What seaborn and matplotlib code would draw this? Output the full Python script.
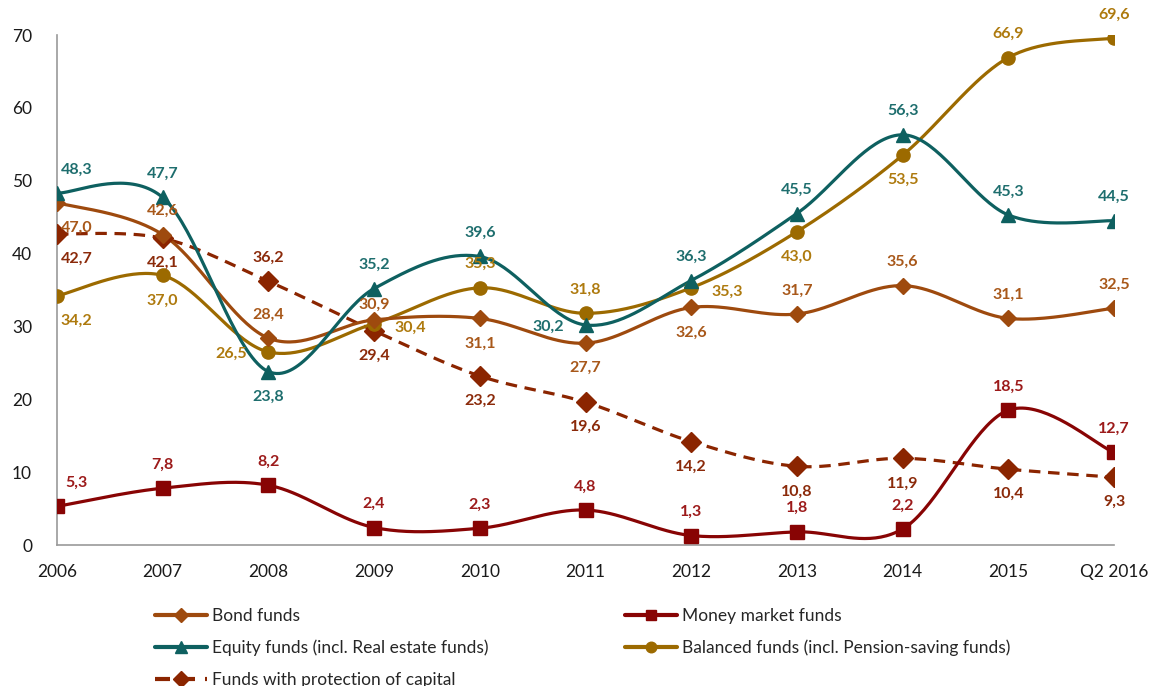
import numpy as np
import pandas as pd
import seaborn as sns
import matplotlib
matplotlib.use("Agg")
import matplotlib.pyplot as plt
from matplotlib.lines import Line2D

# data
years = ["2006", "2007", "2008", "2009", "2010", "2011", "2012", "2013", "2014", "2015", "Q2 2016"]
bond = [47.0, 42.6, 28.4, 30.9, 31.1, 27.7, 32.6, 31.7, 35.6, 31.1, 32.5]
money = [5.3, 7.8, 8.2, 2.4, 2.3, 4.8, 1.3, 1.8, 2.2, 18.5, 12.7]
equity = [48.3, 47.7, 23.8, 35.2, 39.6, 30.2, 36.3, 45.5, 56.3, 45.3, 44.5]
balanced = [34.2, 37.0, 26.5, 30.4, 35.3, 31.8, 35.3, 43.0, 53.5, 66.9, 69.6]
protection = [42.7, 42.1, 36.2, 29.4, 23.2, 19.6, 14.2, 10.8, 11.9, 10.4, 9.3]

names = ["Bond funds", "Money market funds", "Equity funds (incl. Real estate funds)",
         "Balanced funds (incl. Pension-saving funds)", "Funds with protection of capital"]

# where each data label sits: a=above, c=just above, b=below, l=left, r=right
bond_pos = ["b", "a", "a", "c", "b", "b", "b", "a", "a", "a", "a"]
money_pos = ["a"] * 11
equity_pos = ["a", "a", "b", "a", "a", "l", "a", "a", "a", "a", "a"]
balanced_pos = ["b", "b", "l", "r", "a", "a", "r", "b", "b", "a", "a"]
protection_pos = ["b", "b", "a", "b", "b", "b", "b", "b", "b", "b", "b"]

def smooth(xs, ys, n=40):
    # excel style smoothed line (catmull-rom as bezier)
    pts = np.column_stack([xs, ys]).astype(float)
    P = np.vstack([pts[0], pts, pts[-1]])
    out = []
    t = np.linspace(0, 1, n)[:, None]
    for i in range(len(pts) - 1):
        p0, p1, p2, p3 = P[i], P[i + 1], P[i + 2], P[i + 3]
        c1 = p1 + (p2 - p0) / 6
        c2 = p2 - (p3 - p1) / 6
        seg = (1 - t) ** 3 * p1 + 3 * (1 - t) ** 2 * t * c1 + 3 * (1 - t) * t ** 2 * c2 + t ** 3 * p2
        out.append(seg if i == 0 else seg[1:])
    return np.vstack(out)

sns.set_style("white")
plt.rcParams["font.family"] = ["Lato", "DejaVu Sans"]

fig = plt.figure(figsize=(11.57, 6.86), dpi=100)
ax = fig.add_axes([57 / 1157, 1 - 545 / 686, (1114 - 57) / 1157, 510 / 686])

x = np.arange(len(years))
series = [
    (bond, "#9E4A0E", "#A8581A", "D", 8.5, "-", bond_pos),
    (money, "#880404", "#9C1A1A", "s", 9.5, "-", money_pos),
    (equity, "#0E6060", "#1E6E6E", "^", 10, "-", equity_pos),
    (balanced, "#9C6A00", "#AE7A0E", "o", 9.5, "-", balanced_pos),
    (protection, "#8B2500", "#8B2A0A", "D", 10, (0, (3.6, 2.4)), protection_pos),
]

# draw order: protection behind
for idx in [4, 3, 0, 2, 1]:
    vals, lc, tc, mk, ms, ls, pos = series[idx]
    curve = smooth(x, vals)
    df = pd.DataFrame({"x": curve[:, 0], "y": curve[:, 1]})
    sns.lineplot(data=df, x="x", y="y", ax=ax, color=lc, linewidth=2.3, sort=False,
                 estimator=None)
    ax.lines[-1].set_linestyle(ls)
    ax.plot(x, vals, linestyle="none", marker=mk, markersize=ms, color=lc, zorder=4)

offs = {"a": (0, 17), "c": (0, 11), "b": (0, -18), "l": (-27, -1), "r": (26, -3)}
for vals, lc, tc, mk, ms, ls, pos in series:
    for i, v in enumerate(vals):
        dx, dy = offs[pos[i]]
        if i == 0:
            dx += 14
        ax.annotate(f"{v:.1f}".replace(".", ","), (x[i], v), xytext=(dx, dy),
                    textcoords="offset points", ha="center", va="center",
                    fontsize=11.5, fontweight="bold", color=tc, zorder=6)

ax.set_xlim(0, len(years) - 1)
ax.set_ylim(0, 70)
ax.set_yticks(range(0, 71, 10))
ax.set_xticks(x)
ax.set_xticklabels(years)
ax.set_xlabel("")
ax.set_ylabel("")
for s in ["top", "right"]:
    ax.spines[s].set_visible(False)
for s in ["left", "bottom"]:
    ax.spines[s].set_color("#9A9A9A")
    ax.spines[s].set_linewidth(1.2)
ax.tick_params(axis="both", which="major", direction="out", length=6, width=1.2,
               color="#9A9A9A", labelsize=12.5, labelcolor="#1a1a1a")
ax.tick_params(axis="y", pad=12)
ax.tick_params(axis="x", pad=8)
for lab in ax.get_xticklabels() + ax.get_yticklabels():
    lab.set_clip_on(False)

def handle(i):
    vals, lc, tc, mk, ms, ls, pos = series[i]
    return Line2D([], [], color=lc, linewidth=3, linestyle=ls, marker=mk, markersize=ms * 0.8)

leg_kw = dict(loc="upper left", frameon=False, fontsize=12.5, handlelength=3.0,
              handletextpad=0.3, labelspacing=0.9, borderpad=0, borderaxespad=0)
leg1 = fig.legend([handle(0), handle(2), handle(4)], [names[0], names[2], names[4]],
                  bbox_to_anchor=(155 / 1157, 1 - 608 / 686), **leg_kw)
leg2 = fig.legend([handle(1), handle(3)], [names[1], names[3]],
                  bbox_to_anchor=(625 / 1157, 1 - 608 / 686), **leg_kw)

fig.savefig("out.png", dpi=100)
